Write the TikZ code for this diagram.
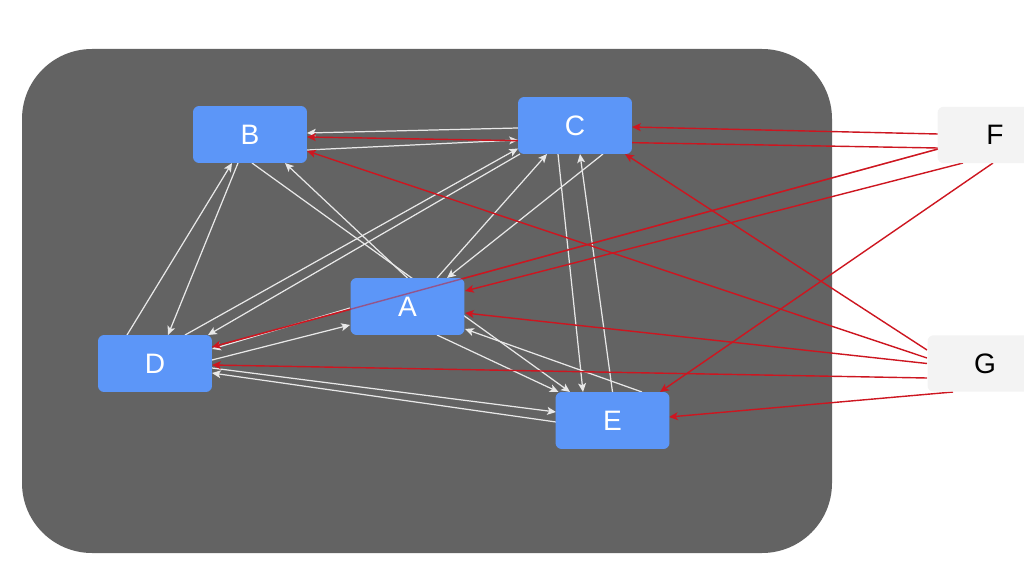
\documentclass[tikz,border=0pt]{standalone}
\usepackage{fontspec}
\setmainfont{Liberation Sans}
\usetikzlibrary{arrows.meta,calc}
\pgfdeclarelayer{back}
\pgfdeclarelayer{mid}
\pgfsetlayers{back,mid,main}
\definecolor{panel}{RGB}{99,99,99}
\definecolor{nodeblue}{RGB}{92,150,248}
\definecolor{sidebox}{RGB}{243,243,243}
\definecolor{linkwhite}{RGB}{232,232,232}
\definecolor{linkred}{RGB}{205,22,32}
\begin{document}
\begin{tikzpicture}[x=0.02cm,y=-0.02cm,
  inner/.style={rectangle, rounded corners=3.5pt, fill=nodeblue, text=white,
    minimum width=2.28cm, minimum height=1.14cm, inner sep=0pt,
    font=\fontsize{16}{18}\selectfont},
  outer/.style={rectangle, rounded corners=3.5pt, fill=sidebox, text=black,
    minimum width=2.3cm, minimum height=1.13cm, inner sep=0pt,
    font=\fontsize{16}{18}\selectfont},
  wlink/.style={draw=linkwhite, line width=0.7pt,
    -{Stealth[length=5pt,width=4.5pt,inset=1.2pt]}},
  rlink/.style={draw=linkred, line width=0.8pt,
    -{Stealth[length=5pt,width=4.5pt,inset=1.2pt]}}]
\clip (0,0) rectangle (1024,574);

% dark panel holding the inner network
\begin{pgfonlayer}{back}
  \fill[panel, rounded corners=1.4cm] (22,49) rectangle (832,553);
\end{pgfonlayer}

% nodes
\node[inner] (B) at (250,134.5) {B};
\node[inner] (C) at (575,125.5) {C};
\node[inner] (A) at (407.5,306.5) {A};
\node[inner] (D) at (155,363.5) {D};
\node[inner] (E) at (612.5,420.5) {E};
\node[outer] (F) at (995,135) {F};
\node[outer] (G) at (985,363.5) {G};

\begin{pgfonlayer}{mid}
  % links between the inner nodes
  \draw[wlink] ($(C)+(-57,2.5)$) -- ($(B)+(57,-1.5)$);
  \draw[wlink] ($(B)+(57,15.5)$) -- ($(C)+(-57,14.5)$);
  \draw[wlink] ($(D)+(-28,-28.5)$) -- ($(B)+(-18,28.5)$);
  \draw[wlink] ($(B)+(-12,28.5)$) -- ($(D)+(13,-28.5)$);
  \draw[wlink] ($(A)+(0,-28.5)$) -- ($(B)+(35,28.5)$);
  \draw[wlink] ($(B)+(2,28.5)$) -- ($(E)+(-42.5,-28.5)$);
  \draw[wlink] ($(D)+(30,-28.5)$) -- ($(C)+(-57,23)$);
  \draw[wlink] ($(C)+(-55,28.5)$) -- ($(D)+(53,-28.5)$);
  \draw[wlink] ($(A)+(29.5,-28.5)$) -- ($(C)+(-28,28.5)$);
  \draw[wlink] ($(C)+(28,28.5)$) -- ($(A)+(39.5,-28.5)$);
  \draw[wlink] ($(C)+(-17,28.5)$) -- ($(E)+(-29.5,-28.5)$);
  \draw[wlink] ($(E)+(0,-28.5)$) -- ($(C)+(5,28.5)$);
  \draw[wlink] ($(A)+(29.5,28.5)$) -- ($(E)+(-54,-28.5)$);
  \draw[wlink] ($(E)+(29.5,-28.5)$) -- ($(A)+(57.5,22.5)$);
  \draw[wlink] ($(D)+(57,-3.5)$) -- ($(A)+(-57.5,18.5)$);
  \draw[wlink] ($(A)+(-57.5,1.5)$) -- ($(D)+(57,-14.5)$);
  \draw[wlink] ($(D)+(57,4.5)$) -- ($(E)+(-56.5,-8.5)$);
  \draw[wlink] ($(E)+(-56.5,1.5)$) -- ($(D)+(57,9.5)$);

  % links from F
  \draw[rlink] ($(F)+(-57,-1)$) -- ($(C)+(57,1.5)$);
  \draw[rlink] ($(F)+(-57,13)$) -- ($(B)+(57,2.5)$);
  \draw[rlink] ($(F)+(-57,14)$) -- ($(D)+(57,-16.5)$);
  \draw[rlink] ($(F)+(-32,28)$) -- ($(A)+(57.5,-15.5)$);
  \draw[rlink] ($(F)+(-2,28)$) -- ($(E)+(47.5,-28.5)$);

  % links from G
  \draw[rlink] ($(G)+(-58,-5.5)$) -- ($(B)+(57,16.5)$);
  \draw[rlink] ($(G)+(-58,-13.5)$) -- ($(C)+(50,28.5)$);
  \draw[rlink] ($(G)+(-58,0)$) -- ($(A)+(57.5,6.5)$);
  \draw[rlink] ($(G)+(-58,14.5)$) -- ($(D)+(57,1.5)$);
  \draw[rlink] ($(G)+(-32,28.5)$) -- ($(E)+(56.5,-3.5)$);
\end{pgfonlayer}

% the F to D link shows faintly across A
\draw[draw=linkred, line width=0.8pt, opacity=0.5]
  ($(F)+(-57,14)$) -- ($(D)+(57,-16.5)$);
\end{tikzpicture}
\end{document}
